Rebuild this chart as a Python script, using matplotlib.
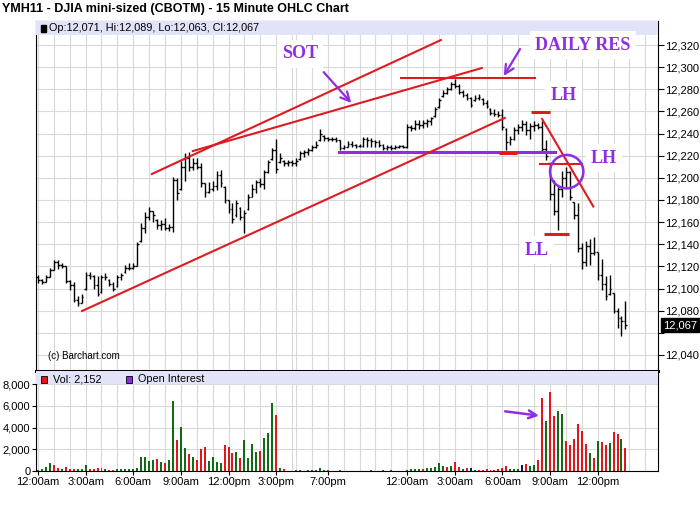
import numpy as np
import matplotlib
matplotlib.use('Agg')
import matplotlib.pyplot as plt
import matplotlib.transforms as mtransforms
from matplotlib.patches import Ellipse, Rectangle

plt.rcParams['font.family'] = ['Liberation Sans', 'DejaVu Sans']

# 15 minute OHLC bars (bar 0 = 12:00am day 1)
opens = [12110, 12108, 12106, 12110, 12117, 12124, 12121, 12120, 12107, 12103,
         12090, 12087, 12100, 12112, 12111, 12103, 12097, 12110, 12108, 12104,
         12102, 12110, 12115, 12119, 12119, 12120, 12143, 12155, 12165, 12170,
         12162, 12157, 12158, 12155, 12156, 12198, 12190, 12210, 12218, 12210,
         12213, 12210, 12195, 12187, 12190, 12193, 12203, 12192, 12180, 12172,
         12166, 12173, 12165, 12172, 12183, 12190, 12196, 12194, 12205, 12217,
         12225, 12214, 12215, 12213, 12214, 12213, 12217, 12222, 12223, 12225,
         12228, 12234, 12238, 12236, 12235, 12235, 12234, 12227, 12228, 12231,
         12230, 12229, 12229, 12235, 12234, 12233, 12232, 12230, 12227, 12228,
         12227, 12228, 12229, 12228, 12246, 12245, 12249, 12248, 12250, 12251,
         12256, 12264, 12274, 12277, 12280, 12285, 12283, 12278, 12275, 12272,
         12270, 12272, 12271, 12268, 12262, 12259, 12258, 12257, 12244, 12232,
         12235, 12243, 12246, 12249, 12243, 12247, 12248, 12246, 12226, 12213,
         12185, 12170, 12190, 12200, 12205, 12178, 12166, 12137, 12124, 12138,
         12132, 12133, 12112, 12104, 12095, 12096, 12080, 12073, 12071]
highs = [12112, 12109, 12112, 12119, 12126, 12126, 12123, 12120, 12108, 12106,
         12093, 12095, 12115, 12115, 12112, 12111, 12112, 12114, 12109, 12106,
         12112, 12114, 12121, 12123, 12123, 12142, 12159, 12169, 12174, 12170,
         12163, 12162, 12164, 12158, 12201, 12200, 12215, 12222, 12223, 12218,
         12218, 12213, 12195, 12196, 12197, 12206, 12207, 12193, 12180, 12177,
         12180, 12174, 12171, 12185, 12194, 12198, 12200, 12207, 12216, 12227,
         12235, 12222, 12216, 12216, 12216, 12218, 12224, 12225, 12227, 12230,
         12233, 12244, 12239, 12237, 12237, 12237, 12234, 12230, 12233, 12233,
         12231, 12231, 12237, 12237, 12236, 12234, 12234, 12231, 12230, 12230,
         12230, 12230, 12230, 12249, 12248, 12252, 12252, 12252, 12253, 12255,
         12264, 12272, 12279, 12282, 12287, 12289, 12285, 12279, 12277, 12273,
         12275, 12276, 12272, 12270, 12263, 12262, 12260, 12262, 12245, 12238,
         12246, 12249, 12252, 12251, 12250, 12251, 12250, 12251, 12234, 12213,
         12198, 12192, 12206, 12210, 12206, 12178, 12177, 12141, 12143, 12145,
         12147, 12133, 12127, 12111, 12112, 12096, 12082, 12075, 12089]
lows = [12105, 12104, 12106, 12110, 12117, 12118, 12119, 12105, 12099, 12088,
        12084, 12087, 12099, 12109, 12100, 12093, 12096, 12108, 12102, 12098,
        12101, 12108, 12114, 12117, 12118, 12120, 12142, 12150, 12162, 12160,
        12154, 12153, 12153, 12152, 12151, 12180, 12189, 12197, 12206, 12207,
        12208, 12192, 12183, 12186, 12188, 12189, 12192, 12177, 12168, 12159,
        12165, 12162, 12150, 12171, 12183, 12186, 12192, 12190, 12204, 12216,
        12204, 12213, 12211, 12211, 12211, 12211, 12216, 12219, 12221, 12224,
        12227, 12233, 12233, 12233, 12233, 12232, 12225, 12226, 12228, 12228,
        12227, 12228, 12228, 12228, 12228, 12228, 12228, 12225, 12225, 12225,
        12226, 12227, 12227, 12227, 12242, 12243, 12244, 12245, 12246, 12248,
        12255, 12263, 12273, 12276, 12279, 12281, 12276, 12273, 12270, 12264,
        12269, 12270, 12266, 12263, 12257, 12256, 12255, 12243, 12225, 12230,
        12234, 12240, 12242, 12239, 12235, 12242, 12244, 12224, 12216, 12180,
        12166, 12153, 12183, 12192, 12180, 12163, 12133, 12118, 12120, 12121,
        12130, 12108, 12099, 12090, 12094, 12078, 12064, 12057, 12063]
closes = [12108, 12106, 12110, 12117, 12124, 12121, 12120, 12107, 12103, 12090,
          12087, 12092, 12112, 12111, 12103, 12095, 12110, 12110, 12104, 12100,
          12110, 12112, 12119, 12119, 12120, 12140, 12155, 12165, 12170, 12166,
          12157, 12158, 12155, 12156, 12198, 12186, 12210, 12218, 12210, 12213,
          12210, 12195, 12187, 12190, 12193, 12203, 12195, 12180, 12172, 12163,
          12177, 12165, 12168, 12183, 12190, 12196, 12194, 12205, 12214, 12225,
          12208, 12218, 12213, 12214, 12213, 12215, 12222, 12223, 12225, 12228,
          12230, 12240, 12236, 12235, 12235, 12234, 12227, 12228, 12231, 12230,
          12229, 12229, 12235, 12234, 12233, 12232, 12230, 12227, 12228, 12227,
          12228, 12229, 12228, 12246, 12245, 12249, 12248, 12250, 12251, 12254,
          12262, 12270, 12277, 12280, 12285, 12283, 12278, 12275, 12272, 12266,
          12272, 12273, 12268, 12265, 12259, 12258, 12257, 12246, 12232, 12235,
          12243, 12246, 12249, 12243, 12247, 12248, 12246, 12226, 12220, 12185,
          12170, 12190, 12200, 12205, 12183, 12166, 12137, 12124, 12138, 12132,
          12133, 12112, 12104, 12093, 12100, 12080, 12073, 12071, 12067]

volume = [100, 200, 400, 770, 520, 250, 150, 340, 220, 220,
          220, 150, 520, 150, 150, 250, 250, 150, 120, 120,
          150, 150, 200, 200, 150, 300, 1260, 1260, 920, 980,
          1100, 800, 700, 980, 6430, 2830, 4030, 2090, 1540, 1260,
          980, 2000, 2180, 890, 1260, 800, 700, 2370, 2180, 1630,
          1720, 1170, 2830, 1170, 2460, 1720, 1820, 3020, 3480, 6250,
          5140, 300, 150, 0, 0, 100, 100, 0, 100, 100,
          100, 300, 100, 100, 0, 0, 100, 0, 0, 0,
          0, 0, 0, 0, 100, 0, 0, 100, 0, 100,
          0, 0, 0, 100, 200, 150, 150, 200, 300, 250,
          370, 740, 460, 370, 460, 830, 370, 180, 280, 280,
          100, 100, 120, 180, 100, 100, 180, 280, 460, 180,
          180, 180, 550, 650, 460, 550, 1020, 6740, 4650, 7290,
          5080, 5510, 5290, 2770, 2400, 2950, 4340, 3690, 2490, 1660,
          1200, 2770, 2680, 2400, 2580, 3600, 3420, 2950, 2120]
# g = up bar, r = down bar, n = unchanged
vol_dir = ("ggggrrgrrr" "gggrrrrgrr" "gggggggggg" "rgrggrggrg" "rrrggggrrr"
           "grggggrggg" "rgrggggggg" "gggrggrggg" "gggggggggg" "gggggggrgg"
           "gggrgrrgrn" "grrrrrrrrg" "ggnrggrrgr" "rggrrrrrrg" "rgrrgrrgr")

# time axis
time_ticks = [0, 12, 24, 36, 48, 60, 73, 93, 105, 117, 129, 141]
time_labels = ['12:00am', '3:00am', '6:00am', '9:00am', '12:00pm', '3:00pm',
               '7:00pm', '12:00am', '3:00am', '6:00am', '9:00am', '12:00pm']
hour_grid = list(range(0, 61, 4)) + [64, 65, 69] + list(range(73, 157, 4))
price_ticks = list(range(12040, 12321, 20))
vol_ticks = [0, 2000, 4000, 6000, 8000]

# hand drawn markup (bar index, price)
channel_upper = ([28.7, 101.5], [12203.5, 12324.5])
sot_line = ([39.0, 111.8], [12224.2, 12299.2])
channel_lower = ([11.1, 117.6], [12079.7, 12254.1])
res_line = ([91.4, 125.2], [12290, 12290])
lh_top_line = ([124.1, 129.1], [12259.2, 12259.2])
support_mark = ([116.1, 120.7], [12222.2, 12222.2])
lh_low_line = ([126.4, 137.0], [12212.5, 12212.5])
down_line = ([127.0, 139.9], [12253.2, 12174.1])
ll_line = ([127.5, 133.8], [12149, 12149])
purple_line = ([75.8, 130.2], [12223.6, 12223.6])
circle_xy = (133.2, 12205.6)
sot_arrow = ((71.5, 12297.4), (79.4, 12265.8))
res_arrow = ((121.8, 12318.5), (117.0, 12289.9))
vol_arrow = ((117.0, 5530), (126.9, 5070))
notes = [('SOT', 66.0, 12311.9), ('DAILY RES', 137.3, 12320.0),
         ('LH', 132.5, 12274.8), ('LH', 142.6, 12217.9), ('LL', 125.7, 12134.8)]

red = '#dd1c22'
purple = '#8e2de2'
grid_c = '#d9d9d9'

x = np.arange(len(closes))

fig = plt.figure(figsize=(7, 5.12), dpi=100)
ax = fig.add_axes([36/700, 141/512, 622/700, 350/512])
axv = fig.add_axes([36/700, 41/512, 622/700, 100/512])

# price panel
ax.vlines(x, lows, highs, color='black', lw=1)
ax.hlines(opens, x - 0.45, x, color='black', lw=1)
ax.hlines(closes, x, x + 0.45, color='black', lw=1)
ax.set_xlim(-0.5, 156.2)
ax.set_ylim(12025.5, 12341.7)
ax.set_xticks(hour_grid)
ax.tick_params(axis='x', length=0, labelbottom=False)
ax.yaxis.tick_right()
ax.set_yticks(price_ticks)
ax.set_yticklabels(['' if p == 12060 else f'{p:,}' for p in price_ticks])
ax.tick_params(axis='y', direction='out', length=4, labelsize=8, pad=1)
ax.grid(True, color=grid_c, lw=0.8)
ax.set_axisbelow(True)

# header band
ax.add_patch(Rectangle((0, 1 - 14/350), 1, 14/350, transform=ax.transAxes,
                       fc='#e2e2f8', ec='none', zorder=3))
ax.add_patch(Rectangle((5/622, 1 - 11/350), 5/622, 7/350, transform=ax.transAxes,
                       fc='black', ec='black', zorder=4))
ax.text(13/622, 1 - 7/350, 'Op:12,071, Hi:12,089, Lo:12,063, Cl:12,067',
        transform=ax.transAxes, fontsize=7.8, va='center', zorder=4)
ax.text(12/622, 15/350, '(c) Barchart.com', transform=ax.transAxes,
        fontsize=7, va='center')
fig.text(2/700, 1 - 9/512, 'YMH11 - DJIA mini-sized (CBOTM) - 15 Minute OHLC Chart',
         fontsize=9, fontweight='bold', va='center')

# last price box
trans = mtransforms.blended_transform_factory(ax.transAxes, ax.transData)
ax.text(1.008, 12067, f'{closes[-1]:,}', transform=trans, color='white', fontsize=8,
        va='center', ha='left', clip_on=False,
        bbox=dict(boxstyle='square,pad=0.15', fc='black', ec='black'))

# markup lines
for seg in [channel_upper, sot_line, channel_lower, res_line, lh_low_line, down_line]:
    ax.plot(seg[0], seg[1], color=red, lw=1.5, zorder=5)
for seg in [lh_top_line, ll_line, support_mark]:
    ax.plot(seg[0], seg[1], color=red, lw=2.2, zorder=5, solid_capstyle='butt')
ax.plot(purple_line[0], purple_line[1], color=purple, lw=2.2, zorder=4)
ax.add_patch(Ellipse(circle_xy, 8.4, 30.2, fc='none', ec=purple, lw=1.8, zorder=6))
for start, end in [sot_arrow, res_arrow]:
    ax.annotate('', xy=end, xytext=start, zorder=6,
                arrowprops=dict(arrowstyle='->', color=purple, lw=1.6, mutation_scale=16))
for txt, tx, ty in notes:
    ax.text(tx, ty, txt, color=purple, fontsize=13, fontweight='bold',
            family=['Liberation Serif', 'DejaVu Serif'], ha='center', va='center', zorder=7,
            bbox=dict(boxstyle='square,pad=0.3', fc='white', ec='none'))

# volume panel
cmap = {'g': '#0f6b14', 'r': '#e0161b', 'n': '#14145a'}
axv.bar(x, volume, width=0.5, color=[cmap[d] for d in vol_dir], zorder=3)
axv.set_xlim(-0.5, 156.2)
axv.set_ylim(0, 9217)
axv.set_xticks(time_ticks)
axv.set_xticklabels(time_labels)
axv.set_xticks(hour_grid, minor=True)
axv.tick_params(axis='x', which='major', length=3, labelsize=8, pad=1)
axv.tick_params(axis='x', which='minor', length=0)
axv.set_yticks(vol_ticks)
axv.set_yticklabels([f'{v:,}' for v in vol_ticks])
axv.tick_params(axis='y', length=3, labelsize=8, pad=1)
axv.grid(True, which='both', color=grid_c, lw=0.8)
axv.set_axisbelow(True)
axv.spines['top'].set_linewidth(2.2)
axv.annotate('', xy=vol_arrow[1], xytext=vol_arrow[0], zorder=6,
             arrowprops=dict(arrowstyle='->', color=purple, lw=1.8, mutation_scale=14))

axv.add_patch(Rectangle((0, 1 - 13/100), 1, 13/100, transform=axv.transAxes,
                        fc='#e2e2f8', ec='none', zorder=4))
axv.add_patch(Rectangle((5/622, 0.885), 6/622, 0.07, transform=axv.transAxes,
                        fc='#e0161b', ec='black', lw=0.6, zorder=5))
axv.text(17/622, 0.92, 'Vol: 2,152', transform=axv.transAxes, fontsize=7.8,
         va='center', zorder=5)
axv.add_patch(Rectangle((90/622, 0.885), 6/622, 0.07, transform=axv.transAxes,
                        fc='#8a2be2', ec='black', lw=0.6, zorder=5))
axv.text(102/622, 0.92, 'Open Interest', transform=axv.transAxes, fontsize=7.8,
         va='center', zorder=5)

fig.savefig('out.png', dpi=100)
